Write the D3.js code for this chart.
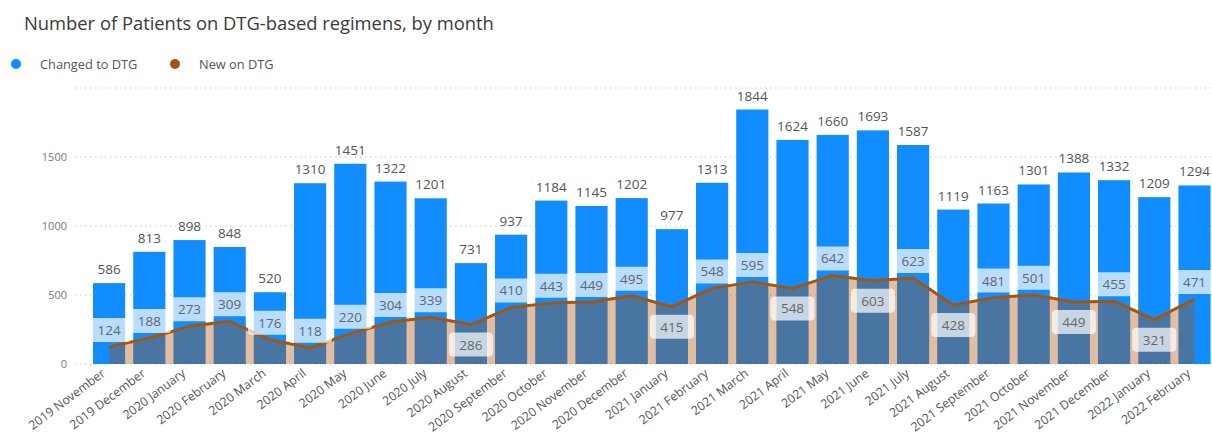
<!DOCTYPE html>
<html>
<head>
<meta charset="utf-8">
<script src="https://cdn.jsdelivr.net/npm/d3@7"></script>
<style>
  html, body { margin: 0; padding: 0; background: #fff; }
  svg { display: block; font-family: "Open Sans", "Noto Sans", sans-serif; }
</style>
</head>
<body>
<svg id="chart" width="1212" height="439"></svg>
<script>
const months = ["2019 November","2019 December","2020 January","2020 February","2020 March","2020 April","2020 May","2020 June","2020 July","2020 August","2020 September","2020 October","2020 November","2020 December","2021 January","2021 February","2021 March","2021 April","2021 May","2021 June","2021 July","2021 August","2021 September","2021 October","2021 November","2021 December","2022 January","2022 February"];
const changedToDTG = [586,813,898,848,520,1310,1451,1322,1201,731,937,1184,1145,1202,977,1313,1844,1624,1660,1693,1587,1119,1163,1301,1388,1332,1209,1294];
const newOnDTG = [124,188,273,309,176,118,220,304,339,286,410,443,449,495,415,548,595,548,642,603,623,428,481,501,449,455,321,471];
const yTicks = [0,500,1000,1500];
const gridTicks = [0,500,1000,1500,2000];
const seriesNames = ["Changed to DTG","New on DTG"];
const titleText = "Number of Patients on DTG-based regimens, by month";

const svg = d3.select("#chart");
const blue = "#118DFF";
const brown = "#A35610";
const areaFill = "rgb(173,77,0)";

const x = d3.scaleBand().domain(months).range([89, 1214.6]).paddingInner(0.2).paddingOuter(0.1);
const y = d3.scaleLinear().domain([0, 2000]).range([364, 88]);

// title
const title = svg.append("text").attr("x", 24).attr("y", 30)
  .attr("fill", "#3a3a3a").attr("font-size", 18).text(titleText);
const tw = title.node().getComputedTextLength();
title.attr("font-size", 18 * 470 / tw);

// legend
const legend = svg.append("g");
const lg = [{name: seriesNames[0], color: blue, cx: 16}, {name: seriesNames[1], color: brown, cx: 175}];
lg.forEach(d => {
  legend.append("circle").attr("cx", d.cx).attr("cy", 64).attr("r", 5).attr("fill", d.color);
  legend.append("text").attr("x", d.cx + 24).attr("y", 68.5).attr("font-size", 12.8)
    .attr("fill", "#555").text(d.name);
});

// grid
svg.append("g").selectAll("line").data(gridTicks).join("line")
  .attr("x1", 75).attr("x2", 1212)
  .attr("y1", d => y(d)).attr("y2", d => y(d))
  .attr("stroke", "#c8c8c8").attr("stroke-width", 1).attr("stroke-dasharray", "1.5,3.5");

// y axis labels
const yAxis = d3.axisLeft(y).tickValues(yTicks).tickFormat(d3.format("d")).tickSize(0).tickPadding(0);
const yg = svg.append("g").attr("transform", "translate(67,0)").call(yAxis);
yg.select(".domain").remove();
yg.selectAll("text").attr("font-size", 11).attr("fill", "#777").attr("font-family", "Open Sans, sans-serif");

// bars
svg.append("g").selectAll("rect").data(changedToDTG).join("rect")
  .attr("x", (d, i) => x(months[i]))
  .attr("width", x.bandwidth())
  .attr("y", d => y(d))
  .attr("height", d => y(0) - y(d))
  .attr("fill", blue);

// area + line for New on DTG
const cx = i => x(months[i]) + x.bandwidth() / 2;
const area = d3.area().x((d, i) => cx(i)).y0(y(0)).y1(d => y(d));
svg.append("path").datum(newOnDTG).attr("d", area).attr("fill", areaFill).attr("fill-opacity", 0.366);
const line = d3.line().x((d, i) => cx(i)).y(d => y(d));
svg.append("path").datum(newOnDTG).attr("d", line).attr("fill", "none")
  .attr("stroke", brown).attr("stroke-width", 3).attr("stroke-linejoin", "round");

// bar value labels
svg.append("g").selectAll("text").data(changedToDTG).join("text")
  .attr("x", (d, i) => cx(i)).attr("y", d => y(d) - 9)
  .attr("text-anchor", "middle").attr("font-size", 13.5).attr("fill", "#555")
  .text(d => d);

// line labels with boxes
const boxW = 44, boxH = 24;
const lbl = svg.append("g");
newOnDTG.forEach((v, i) => {
  const py = y(v);
  const prev = i > 0 ? newOnDTG[i - 1] : Infinity;
  const next = i < newOnDTG.length - 1 ? newOnDTG[i + 1] : Infinity;
  const localMin = v < prev && v < next;
  const below = localMin && (py + 8 + boxH <= y(0));
  const top = below ? py + 8 : py - 5 - boxH;
  lbl.append("rect").attr("x", cx(i) - boxW / 2).attr("y", top)
    .attr("width", boxW).attr("height", boxH).attr("rx", 4)
    .attr("fill", "#fff").attr("fill-opacity", 0.7);
  lbl.append("text").attr("x", cx(i)).attr("y", top + boxH / 2 + 5)
    .attr("text-anchor", "middle").attr("font-size", 13.5).attr("fill", "#666").text(v);
});

// x axis labels
const xl = svg.append("g").selectAll("text").data(months).join("text")
  .attr("transform", (d, i) => `translate(${cx(i) - 3},${375}) rotate(-37)`)
  .attr("text-anchor", "end")
  .attr("font-size", 12).attr("fill", "#555").text(d => d);
const refLen = xl.nodes()[0].getComputedTextLength();
xl.attr("font-size", 12 * 92 / refLen);
</script>
</body>
</html>
